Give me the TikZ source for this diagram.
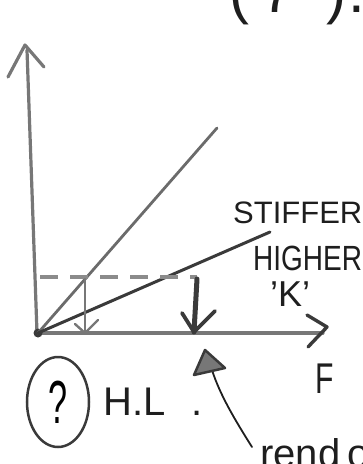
\documentclass[tikz,border=0pt]{standalone}
\usepackage{fontspec}
\usepackage{graphicx}
\setmainfont{Liberation Sans}
\usetikzlibrary{shapes.geometric}
\definecolor{pencil}{HTML}{777777}
\definecolor{darkpen}{HTML}{3A3A3A}
\definecolor{ink}{HTML}{1E1E1E}
\tikzset{
  axisline/.style={draw=pencil, line width=3.2pt, line cap=round, line join=round},
  steepline/.style={draw=pencil!90!black, line width=2.8pt, line cap=round},
  shallowline/.style={draw=darkpen, line width=3pt, line cap=round},
  dashline/.style={draw=pencil!85, line width=4pt, dash pattern=on 18pt off 12pt},
  thinarrow/.style={draw=pencil, line width=2.4pt, line cap=round, line join=round},
  thickarrow/.style={draw=darkpen, line width=5pt, line cap=round, line join=round},
  handtext/.style={text=ink, inner sep=0pt, anchor=base west},
}
\begin{document}
\begin{tikzpicture}[x=1pt,y=-1pt]
\useasboundingbox (0,0) rectangle (363,464);
% key coordinates
\coordinate (O) at (38,333);
\coordinate (ybot) at (37,333);
\coordinate (ytop) at (27,50);
\coordinate (ytip) at (25,45);
\coordinate (yw1) at (8,77);
\coordinate (yw2) at (44,67);
\coordinate (xend) at (323,333);
\coordinate (xtip) at (327,327);
\coordinate (xw1) at (307,315);
\coordinate (xw2) at (308,347);
\coordinate (steepend) at (217,128);
\coordinate (shallowend) at (270,232);
\coordinate (dashstart) at (40,277);
\coordinate (dashend) at (197,277);
\coordinate (tA) at (85,279);
\coordinate (tB) at (85,333);
\coordinate (tw1) at (75,324);
\coordinate (tw2) at (98,320);
\coordinate (kA) at (197,279);
\coordinate (kB) at (194,332);
\coordinate (kw1) at (182,313);
\coordinate (kw2) at (215,311);
\coordinate (cStart) at (252,447);
\coordinate (cEnd) at (212,370);
\coordinate (hTip) at (205,350);
\coordinate (hL) at (194,375);
\coordinate (hR) at (225,368);

% axes
\path[axisline] (ybot) -- (ytop);
\path[axisline] (yw1) -- (ytip) -- (yw2);
\path[axisline] (O) -- (xend);
\path[draw=darkpen, line width=3.4pt, line cap=round, line join=round] (xw1) -- (xtip) -- (xw2);
% origin blob
\fill[darkpen] (O) circle (4.5pt);

% lines
\path[steepline] (O) -- (steepend);
\path[shallowline] (O) -- (shallowend);
\path[dashline] (dashstart) -- (dashend);

% thin arrow
\path[thinarrow] (tA) -- (tB);
\path[thinarrow] (tw1) -- (tB) -- (tw2);
% thick arrow
\path[thickarrow] (kA) -- (kB);
\path[draw=darkpen, line width=3.8pt, line cap=round, line join=round] (kw1) -- (kB) -- (kw2);

% curved pointer arrow
\draw[ink, line width=1.8pt, line cap=round] (cStart) .. controls (235,420) and (220,395) .. (cEnd);
\filldraw[fill=pencil, draw=darkpen, line width=2.5pt, line join=round] (hTip) -- (hL) -- (hR) -- cycle;

% texts
\node[handtext] (stiffer) at (233,223) {\fontsize{31}{31}\selectfont STIFFER};
\node[handtext] (higher) at (253,270) {\scalebox{0.8}[1]{\fontsize{35}{35}\selectfont HIGHER}};
\node[handtext] (kk) at (270,306) {\fontsize{36}{36}\selectfont 'K'};
\node[handtext] (F) at (315,393) {\scalebox{0.7}[1]{\fontsize{43}{43}\selectfont F}};
\node[handtext] (hl) at (103,415) {\fontsize{40}{40}\selectfont H.L\hspace{26pt}.};
\node[handtext] (rend) at (260,467) {\fontsize{40}{40}\selectfont rend\hspace{7pt}o};
\node[handtext] (topfrag) at (229,12) {\fontsize{60}{60}\selectfont (\hspace{12pt}7\hspace{32pt})\hspace{2pt}.};
\node[draw=darkpen, line width=2.5pt, ellipse, minimum width=62pt, minimum height=90pt, inner sep=0pt] (q) at (58,402) {\scalebox{0.9}[1.6]{\fontsize{38}{38}\selectfont ?}};
\end{tikzpicture}
\end{document}
